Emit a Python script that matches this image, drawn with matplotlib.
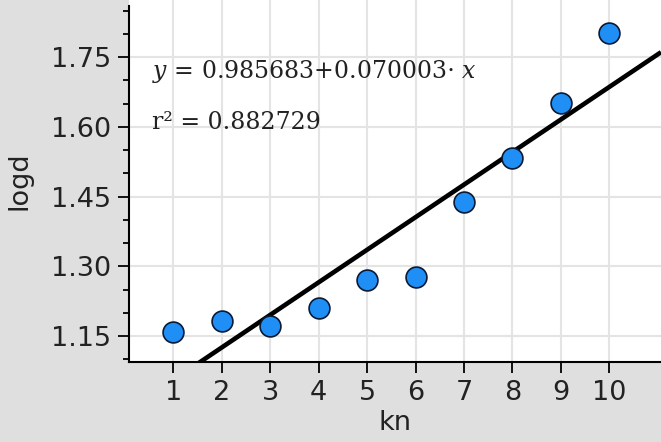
import numpy as np
import matplotlib
matplotlib.use('Agg')
import matplotlib.pyplot as plt
from matplotlib.ticker import MultipleLocator

# data
kn = [1, 2, 3, 4, 5, 6, 7, 8, 9, 10]
logd = [1.159, 1.182, 1.172, 1.210, 1.270, 1.277, 1.438, 1.533, 1.651, 1.802]
intercept = 0.985683
slope = 0.070003
r2 = 0.882729
y_ticks = [1.15, 1.30, 1.45, 1.60, 1.75]

W, H = 661, 442
bg = '#dfdfdf'

plt.rcParams['mathtext.fontset'] = 'dejavuserif'

fig = plt.figure(figsize=(W / 100, H / 100), dpi=100, facecolor=bg)
ax = fig.add_axes([129 / W, (H - 362) / H, 1 - 129 / W, 362 / H])
ax.set_facecolor('white')

xmin, xmax = 0.0855, 11.067
ymin, ymax = 1.0945, 1.8726
ax.set_xlim(xmin, xmax)
ax.set_ylim(ymin, ymax)

# grid
ax.set_xticks(kn)
ax.set_yticks(y_ticks)
ax.yaxis.set_minor_locator(MultipleLocator(0.05))
ax.grid(True, which='major', color='#e4e4e4', linewidth=1.5, zorder=0)

# regression line across the whole axis
xx = np.array([xmin, xmax])
ax.plot(xx, intercept + slope * xx, color='black', linewidth=3.3, zorder=2,
        solid_capstyle='butt')

ax.scatter(kn, logd, s=225, color='#1f8ef5', edgecolor='#0a1a33',
           linewidth=1.2, zorder=3, clip_on=False)

for side in ['top', 'right']:
    ax.spines[side].set_visible(False)
ax.spines['left'].set_linewidth(1.5)
ax.spines['bottom'].set_linewidth(1.5)
ax.spines['left'].set_bounds(ymin, 1.859)

ax.set_yticklabels(['%.2f' % v for v in y_ticks])
ax.tick_params(which='major', length=8, width=1.4, color='#111111',
               labelsize=19.5, labelcolor='#222222', pad=5)
ax.tick_params(which='minor', length=4.5, width=1.4, color='#111111')

ax.set_xlabel('kn', fontsize=19.5, color='#222222', labelpad=3)
ax.set_ylabel('logd', fontsize=19.5, color='#222222', labelpad=13)

fig.text(152 / W, 1 - 78 / H,
         r'$y$ = %.6f+%.6f$\cdot$ $x$' % (intercept, slope),
         family='DejaVu Serif', fontsize=17, va='baseline', color='#222222')
fig.text(152 / W, 1 - 129 / H, 'r² = %.6f' % r2,
         family='DejaVu Serif', fontsize=17, va='baseline', color='#222222')

fig.savefig('out.png', dpi=100, facecolor=bg)
